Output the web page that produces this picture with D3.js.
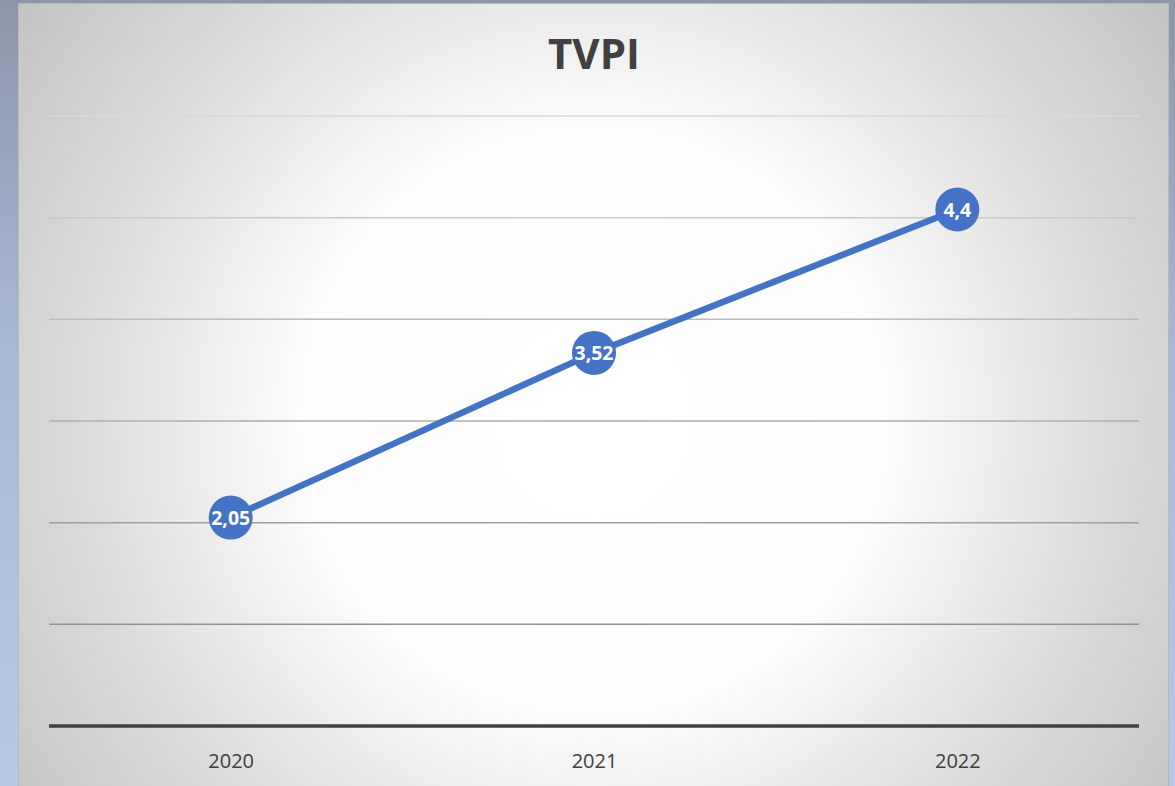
<!DOCTYPE html>
<html>
<head>
<meta charset="utf-8">
<script src="https://cdn.jsdelivr.net/npm/d3@7"></script>
<style>
  body { margin: 0; background: #fff; }
  svg { display: block; }
</style>
</head>
<body>
<div id="chart"></div>
<script>
// values (plotted positions) and the labels shown on the markers
var years = ["2020", "2021", "2022"];
var tvpi = [2.05, 3.67, 5.08];
var tvpi_labels = ["2,05", "3,52", "4,4"];
var y_ticks = [0, 1, 2, 3, 4, 5, 6];

var W = 1175, H = 786;

var svg = d3.select("#chart")
    .append("svg")
    .attr("width", W)
    .attr("height", H);

var defs = svg.append("defs");

var outer = defs.append("linearGradient")
    .attr("id", "outer_bg")
    .attr("x1", 0).attr("y1", 0).attr("x2", 0).attr("y2", 1);
outer.append("stop").attr("offset", "0%").attr("stop-color", "#8c96a8");
outer.append("stop").attr("offset", "45%").attr("stop-color", "#a7b9d8");
outer.append("stop").attr("offset", "100%").attr("stop-color", "#b7c9e9");

var panel = defs.append("radialGradient")
    .attr("id", "panel_bg")
    .attr("gradientUnits", "userSpaceOnUse")
    .attr("cx", 594).attr("cy", 420).attr("r", 720);
panel.append("stop").attr("offset", "0%").attr("stop-color", "#ffffff");
panel.append("stop").attr("offset", "40%").attr("stop-color", "#fdfdfd");
panel.append("stop").attr("offset", "75%").attr("stop-color", "#d8d8d8");
panel.append("stop").attr("offset", "100%").attr("stop-color", "#c2c2c2");

svg.append("rect")
    .attr("width", W).attr("height", H)
    .attr("fill", "url(#outer_bg)");

svg.append("rect")
    .attr("x", 18.5).attr("y", 3.5)
    .attr("width", 1150).attr("height", H)
    .attr("fill", "url(#panel_bg)")
    .attr("stroke", "#b9b9b9")
    .attr("stroke-width", 1);

var x = d3.scalePoint()
    .domain(years)
    .range([49, 1139])
    .padding(0.5);

var y = d3.scaleLinear()
    .domain([0, 6])
    .range([726, 116]);

var grid_col = d3.scaleLinear()
    .domain([1, 6])
    .range(["#929292", "#d8d8d8"]);

// gridlines
svg.append("g")
    .selectAll("line")
    .data(y_ticks.filter(function(d) { return d > 0; }))
    .enter()
    .append("line")
    .attr("x1", 49).attr("x2", 1139)
    .attr("y1", function(d) { return y(d); })
    .attr("y2", function(d) { return y(d); })
    .attr("stroke", function(d) { return grid_col(d); })
    .attr("stroke-width", 1.5);

// category axis
var xAxis = svg.append("g")
    .attr("transform", "translate(0," + y(0) + ")")
    .call(d3.axisBottom(x).tickSize(0).tickPadding(28));
xAxis.select(".domain")
    .attr("d", "M49,0H1139")
    .attr("stroke", "#404040")
    .attr("stroke-width", 3.5);
xAxis.selectAll("text")
    .attr("font-family", "'Open Sans', sans-serif")
    .attr("font-size", 20)
    .attr("fill", "#404040");

// title
svg.append("text")
    .attr("x", 594)
    .attr("y", 69)
    .attr("text-anchor", "middle")
    .attr("font-family", "'Open Sans', sans-serif")
    .attr("font-weight", "bold")
    .attr("font-size", 42)
    .attr("fill", "#404040")
    .text("TVPI");

var pts = years.map(function(d, i) { return { year: d, v: tvpi[i], label: tvpi_labels[i] }; });

var line = d3.line()
    .x(function(d) { return x(d.year); })
    .y(function(d) { return y(d.v); });

svg.append("path")
    .datum(pts)
    .attr("d", line)
    .attr("fill", "none")
    .attr("stroke", "#4472c4")
    .attr("stroke-width", 6.5)
    .attr("stroke-linecap", "round");

var marks = svg.append("g")
    .selectAll("g")
    .data(pts)
    .enter()
    .append("g")
    .attr("transform", function(d) { return "translate(" + x(d.year) + "," + y(d.v) + ")"; });

marks.append("circle")
    .attr("r", 22)
    .attr("fill", "#4472c4");

marks.append("text")
    .attr("text-anchor", "middle")
    .attr("dy", "0.36em")
    .attr("font-family", "'Open Sans', sans-serif")
    .attr("font-weight", "bold")
    .attr("font-size", 19.5)
    .attr("fill", "#ffffff")
    .text(function(d) { return d.label; });
</script>
</body>
</html>
